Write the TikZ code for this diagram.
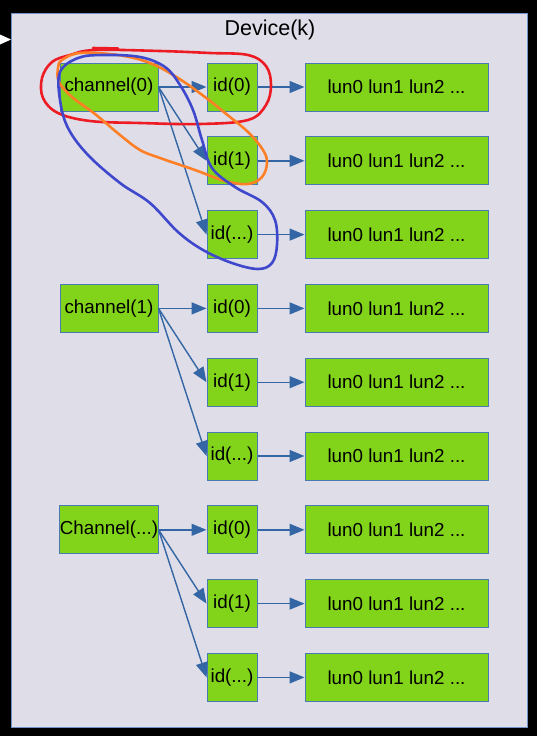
\documentclass[tikz,border=0pt]{standalone}
\usepackage{fontspec}
\setmainfont{Liberation Sans}
\usetikzlibrary{arrows.meta}
\definecolor{bgl}{HTML}{DFDEE8}
\definecolor{frame}{HTML}{7092C6}
\definecolor{boxg}{HTML}{81D41A}
\definecolor{boxb}{HTML}{4A7BB0}
\definecolor{arr}{HTML}{3465A4}
\definecolor{pred}{HTML}{ED1C24}
\definecolor{porange}{HTML}{FF7F27}
\definecolor{pblue}{HTML}{3F48CC}
\tikzset{
  gbox/.style={draw=boxb, fill=boxg, line width=1pt, minimum height=48pt, inner sep=0pt, text=black,
    font=\fontsize{18.8}{22}\selectfont},
  chbox/.style={gbox, minimum width=98pt},
  idbox/.style={gbox, minimum width=50pt},
  lunbox/.style={gbox, minimum width=183pt},
  link/.style={draw=arr, line width=1.4pt, -{Triangle[length=15pt,width=12pt]}},
  loop/.style={line width=2.6pt, line join=round, line cap=round},
}
\begin{document}
\begin{tikzpicture}[x=1pt,y=-1pt]
\fill[black] (0,0) rectangle (537,736);
\useasboundingbox (0,0) rectangle (537,736);
\node[draw=frame, fill=bgl, line width=1pt, minimum width=516pt, minimum height=714pt, inner sep=0pt] (device) at (269,370) {};
\node[font=\fontsize{21.5}{25}\selectfont, inner sep=0pt] (title) at (270,30) {Device(k)};
\fill[white] (0,34.5) -- (11,39.5) -- (0,44.5) -- cycle;
% group 1
\node[chbox] (c0) at (109,87) {channel(0)};
\node[idbox] (i00) at (232,87) {id(0)};
\node[idbox] (i01) at (232,160.8) {id(1)};
\node[idbox] (i02) at (232,234.6) {id(...)};
\node[lunbox] (l00) at (396.5,87) {lun0 lun1 lun2 ...};
\node[lunbox] (l01) at (396.5,160.8) {lun0 lun1 lun2 ...};
\node[lunbox] (l02) at (396.5,234.6) {lun0 lun1 lun2 ...};
% group 2
\node[chbox] (c1) at (109,308.4) {channel(1)};
\node[idbox] (i10) at (232,308.4) {id(0)};
\node[idbox] (i11) at (232,382.2) {id(1)};
\node[idbox] (i12) at (232,456) {id(...)};
\node[lunbox] (l10) at (396.5,308.4) {lun0 lun1 lun2 ...};
\node[lunbox] (l11) at (396.5,382.2) {lun0 lun1 lun2 ...};
\node[lunbox] (l12) at (396.5,456) {lun0 lun1 lun2 ...};
% group 3
\node[chbox] (c2) at (109,529.8) {Channel(...)};
\node[idbox] (i20) at (232,529.8) {id(0)};
\node[idbox] (i21) at (232,603.6) {id(1)};
\node[idbox] (i22) at (232,677.4) {id(...)};
\node[lunbox] (l20) at (396.5,529.8) {lun0 lun1 lun2 ...};
\node[lunbox] (l21) at (396.5,603.6) {lun0 lun1 lun2 ...};
\node[lunbox] (l22) at (396.5,677.4) {lun0 lun1 lun2 ...};
% links
\foreach \g in {0,1,2}{
  \foreach \k in {0,1,2}{
    \draw[link] (c\g.east) -- (i\g\k.west);
    \draw[link] (i\g\k.east) -- (l\g\k.west);
  }
}
% hand-drawn loops
\draw[loop, pred] plot[smooth cycle, tension=0.6] coordinates {(95,50) (160,51) (210,53) (248,55) (266,66) (271,85) (266,105) (248,120) (200,124) (140,123) (90,121) (58,113) (43,98) (42,78) (52,62) (70,55)};
\draw[loop, pred] (93,48) -- (118,48.5);
\draw[loop, porange] plot[smooth cycle, tension=0.6] coordinates {(62,60) (80,53) (118,55) (150,63) (178,78) (205,97) (225,113) (248,132) (263,150) (267,163) (262,177) (248,184) (225,181) (195,170) (160,158) (140,150) (120,135) (95,114) (72,97) (59,82) (58,68)};
\draw[loop, pblue] plot[smooth cycle, tension=0.6] coordinates {(78,58) (103,55) (140,57) (165,67) (180,85) (193,110) (202,140) (212,168) (235,187) (262,202) (275,220) (277,245) (272,263) (258,269) (232,263) (203,250) (178,232) (150,203) (120,183) (88,155) (68,128) (60,100) (60,72)};
\end{tikzpicture}
\end{document}
